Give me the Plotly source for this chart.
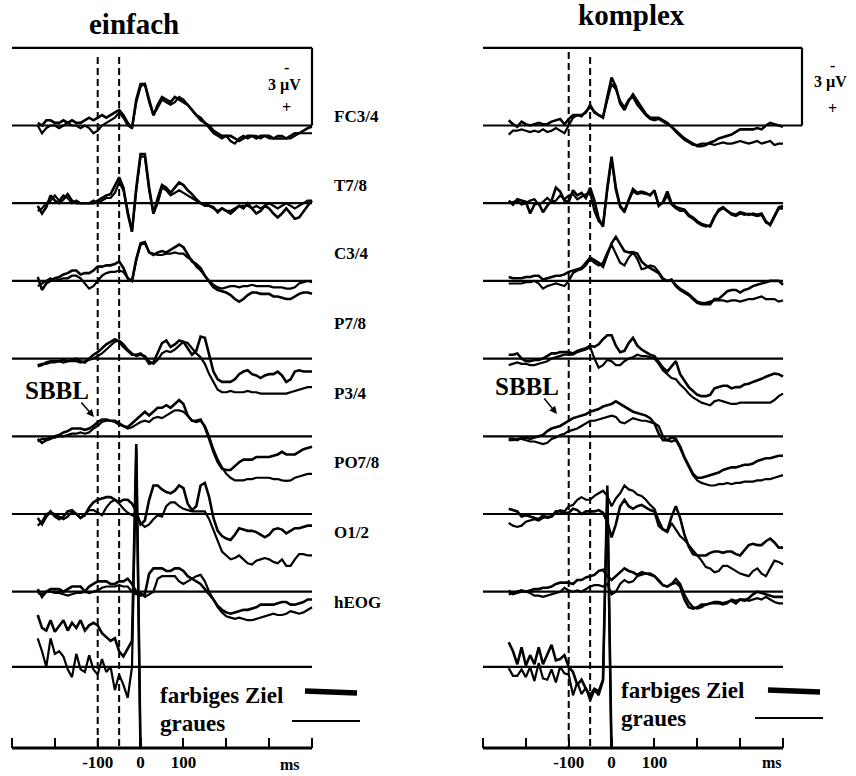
import plotly.graph_objects as go

# ---------------- data (µV, negative up as in the original ERP plot) ----------------
T = list(range(-240, 401, 10))  # ms

CHANNELS = ["FC3/4", "T7/8", "C3/4", "P7/8", "P3/4", "PO7/8", "O1/2", "hEOG"]
XTICKS = [-300, -200, -100, 0, 100, 200, 300, 400]
XTICK_TEXT = ["", "", "-100", "0", "100", "", "", ""]
MARKERS_MS = [-100, -50]
N = None

# ----- einfach (left) -----
E_FC_FARB = [-0.1, 0.0, -0.2, -0.2, -0.1, -0.1, -0.2, -0.1, -0.2,
             -0.1, -0.1, -0.2, -0.3, -0.2, -0.3, -0.4, -0.3, -0.4, -0.5,
             -0.6, -0.4, -0.1, 0.1, -1.0, -1.6, -1.6, -1.0, -0.4, -0.8,
             -1.1, -1.0, -0.9, -1.1, -1.0, -0.9, -0.8, -0.6, -0.4, -0.3,
             -0.1, 0.0, 0.2, 0.3, 0.4, 0.4, 0.4, 0.5, 0.6, 0.5,
             0.4, 0.4, 0.5, 0.4, 0.4, 0.4, 0.5, 0.5, 0.5, 0.5,
             0.4, 0.3, 0.3, 0.2, 0.1, 0.05]
E_FC_GRAU = [0.0, 0.3, 0.1, 0.0, 0.0, 0.1, 0.0, -0.1, 0.0,
             0.0, 0.1, 0.0, 0.1, 0.3, 0.2, 0.0, -0.1, -0.2, -0.3,
             -0.5, -0.3, 0.0, 0.1, -0.9, -1.5, -1.6, -0.9, -0.4, -0.7,
             -1.0, -0.9, -0.8, -0.9, -1.1, -1.0, -0.8, -0.6, -0.4, -0.2,
             -0.1, 0.1, 0.3, 0.4, 0.5, 0.4, 0.6, 0.7, 0.5, 0.4,
             0.5, 0.4, 0.4, 0.5, 0.4, 0.5, 0.5, 0.4, 0.4, 0.5,
             0.5, 0.4, 0.3, 0.3, 0.3, 0.3]
E_T78_FARB = [0.1, 0.4, 0.15, -0.3, -0.1, 0.0, -0.15, -0.35, -0.1,
              0.0, 0.0, 0.0, 0.0, 0.0, -0.1, -0.2, -0.3, -0.35, -0.7,
              -1.0, -0.6, 0.4, 1.1, -0.6, -1.9, -1.9, -0.6, 0.4, -0.2,
              -0.7, -0.6, -0.4, -0.6, -0.8, -0.7, -0.5, -0.35, -0.15, 0.0,
              0.0, 0.1, 0.15, 0.35, 0.2, 0.3, 0.4, 0.25, 0.1, 0.2,
              0.0, 0.2, 0.4, 0.3, 0.1, 0.2, 0.4, 0.55, 0.4, 0.2,
              0.4, 0.6, 0.55, 0.3, 0.1, -0.1]
E_T78_GRAU = [0.3, 0.2, 0.0, -0.1, -0.3, -0.1, -0.3, -0.2, 0.0,
              -0.1, 0.0, 0.0, 0.0, -0.1, 0.0, -0.1, -0.2, -0.2, -0.4,
              -0.8, -0.5, 0.3, 1.1, -0.5, -1.8, -1.8, -0.5, 0.4, 0.0,
              -0.6, -0.5, -0.3, -0.4, -0.5, -0.4, -0.3, -0.2, -0.1, 0.0,
              0.1, 0.1, 0.2, 0.3, 0.2, 0.3, 0.3, 0.2, 0.1, 0.1,
              0.1, 0.2, 0.1, 0.2, 0.1, 0.0, 0.1, 0.2, 0.1, 0.0,
              0.1, 0.2, 0.1, 0.0, -0.1, -0.1]
E_C34_FARB = [-0.15, 0.35, 0.1, 0.0, -0.1, -0.15, -0.25, -0.3, -0.4,
              -0.4, -0.25, -0.3, -0.3, -0.4, -0.55, -0.55, -0.6, -0.6, -0.65,
              -0.75, -0.5, -0.1, 0.0, -0.85, -1.45, -1.5, -1.1, -1.0, -1.1,
              -1.15, -1.1, -1.2, -1.3, -1.4, -1.3, -1.0, -0.75, -0.65, -0.5,
              -0.2, 0.05, 0.25, 0.35, 0.4, 0.45, 0.55, 0.7, 0.8, 0.7,
              0.55, 0.45, 0.45, 0.5, 0.5, 0.5, 0.6, 0.6, 0.65, 0.7,
              0.7, 0.6, 0.5, 0.45, 0.45, 0.5]
E_C34_GRAU = [0.2, 0.1, 0.0, -0.1, 0.0, -0.05, -0.1, -0.1, -0.2,
              -0.2, -0.1, 0.1, 0.3, 0.2, 0.0, -0.2, -0.3, -0.35, -0.35,
              -0.4, -0.35, -0.1, 0.0, -0.8, -1.4, -1.45, -1.1, -1.05, -1.0,
              -1.0, -1.05, -1.05, -1.1, -1.05, -1.05, -0.9, -0.8, -0.55, -0.4,
              -0.2, 0.0, 0.15, 0.25, 0.3, 0.25, 0.2, 0.2, 0.25, 0.2,
              0.2, 0.15, 0.2, 0.2, 0.2, 0.2, 0.25, 0.25, 0.25, 0.3,
              0.3, 0.25, 0.1, 0.05, 0.0, 0.05]
E_P78_FARB = [0.3, 0.25, 0.15, 0.1, 0.1, 0.1, 0.05, 0.1, 0.05,
              0.0, 0.1, 0.15, 0.0, -0.15, -0.25, -0.4, -0.55, -0.65, -0.75,
              -0.65, -0.45, -0.3, -0.15, -0.15, -0.2, -0.05, 0.2, 0.15, -0.2,
              -0.6, -0.7, -0.45, -0.55, -0.7, -0.65, -0.4, -0.15, -0.3, -0.85,
              -0.8, -0.15, 0.5, 0.8, 0.9, 0.9, 0.9, 0.8, 0.6, 0.5,
              0.45, 0.6, 0.65, 0.75, 0.65, 0.6, 0.6, 0.5, 0.65, 0.9,
              0.8, 0.5, 0.45, 0.5, 0.5, 0.5]
E_P78_GRAU = [0.25, 0.2, 0.2, 0.15, 0.15, 0.1, 0.15, 0.1, 0.1,
              0.1, 0.15, 0.1, 0.05, 0.0, -0.1, -0.2, -0.35, -0.5, -0.65,
              -0.7, -0.55, -0.35, -0.2, -0.1, -0.15, -0.1, 0.1, 0.2, 0.05,
              -0.2, -0.3, -0.25, -0.35, -0.5, -0.65, -0.6, -0.4, -0.2, -0.05,
              0.2, 0.6, 0.9, 1.2, 1.3, 1.3, 1.25, 1.3, 1.3, 1.3,
              1.25, 1.3, 1.3, 1.35, 1.35, 1.35, 1.35, 1.35, 1.35, 1.35,
              1.3, 1.25, 1.2, 1.15, 1.1, 1.1]
E_P34_FARB = [0.1, 0.25, 0.15, 0.1, 0.0, -0.05, -0.15, -0.2, -0.3,
              -0.3, -0.3, -0.25, -0.3, -0.4, -0.55, -0.65, -0.65, -0.6, -0.6,
              -0.5, -0.4, -0.35, -0.5, -0.65, -0.8, -0.95, -0.8, -0.95, -1.1,
              -1.1, -1.2, -1.1, -1.25, -1.4, -1.25, -0.8, -0.6, -0.6, -0.65,
              -0.35, 0.1, 0.6, 1.0, 1.25, 1.3, 1.3, 1.15, 1.0, 0.9,
              0.9, 0.9, 0.8, 0.8, 0.8, 0.8, 0.75, 0.7, 0.6, 0.7,
              0.7, 0.7, 0.6, 0.5, 0.45, 0.4]
E_P34_GRAU = [0.2, 0.1, 0.1, 0.05, 0.05, 0.0, 0.0, -0.05, -0.1,
              -0.1, -0.15, -0.1, -0.15, -0.3, -0.4, -0.55, -0.6, -0.6, -0.55,
              -0.45, -0.4, -0.3, -0.35, -0.45, -0.55, -0.6, -0.55, -0.7, -0.75,
              -0.7, -0.8, -0.9, -1.0, -1.0, -0.95, -0.8, -0.6, -0.55, -0.6,
              -0.4, 0.0, 0.5, 0.9, 1.2, 1.45, 1.6, 1.7, 1.7, 1.7,
              1.65, 1.65, 1.6, 1.6, 1.6, 1.6, 1.65, 1.65, 1.7, 1.72,
              1.7, 1.6, 1.55, 1.5, 1.45, 1.45]
E_PO78_FARB = [0.15, 0.4, 0.1, -0.1, 0.1, 0.2, 0.1, -0.1, -0.15,
               0.0, 0.15, 0.05, -0.25, -0.45, -0.55, -0.6, -0.65, -0.65, -0.55,
               -0.45, -0.55, -0.55, -0.4, -0.1, 0.4, 0.25, -0.55, -1.1, -1.1,
               -0.95, -0.85, -0.8, -0.9, -1.1, -1.0, -0.4, -0.15, -0.3, -1.1,
               -1.2, -0.65, 0.15, 0.65, 0.85, 0.95, 1.0, 0.8, 0.55, 0.6,
               0.65, 0.65, 0.7, 0.8, 0.9, 0.8, 0.6, 0.55, 0.6, 0.75,
               0.65, 0.55, 0.55, 0.5, 0.45, 0.45]
E_PO78_GRAU = [0.45, 0.3, 0.0, -0.05, 0.0, 0.1, 0.2, 0.1, -0.1,
               0.0, 0.15, 0.0, -0.15, -0.15, -0.05, 0.05, -0.25, -0.45, -0.55,
               -0.4, -0.2, -0.05, 0.05, 0.1, 0.35, 0.5, 0.4, 0.2, 0.05,
               0.1, -0.3, -0.45, -0.45, -0.3, -0.2, -0.15, -0.1, -0.1, -0.1,
               -0.1, 0.2, 0.6, 1.0, 1.45, 1.6, 1.75, 1.7, 1.6, 1.75,
               1.9, 1.95, 1.8, 1.75, 1.7, 1.75, 1.85, 1.9, 1.75, 2.0,
               2.0, 1.75, 1.55, 1.55, 1.6, 1.6]
E_O12_FARB = [-0.1, 0.2, 0.0, -0.1, -0.1, -0.1, 0.0, -0.1, -0.2,
              -0.2, -0.2, 0.0, -0.2, -0.3, -0.4, -0.4, -0.4, -0.3, -0.3,
              -0.4, -0.4, -0.5, -0.3, 0.0, 0.15, 0.1, -0.7, -0.9, -0.9,
              -0.9, -0.8, -0.8, -0.9, -0.9, -0.8, -0.6, -0.5, -0.4, -0.3,
              -0.1, 0.1, 0.3, 0.55, 0.7, 0.8, 0.85, 0.8, 0.75, 0.7,
              0.7, 0.65, 0.6, 0.5, 0.5, 0.5, 0.5, 0.45, 0.4, 0.4,
              0.5, 0.5, 0.45, 0.4, 0.3, 0.3]
E_O12_GRAU = [0.05, 0.1, 0.0, 0.0, 0.05, 0.05, 0.1, 0.15, 0.1,
              0.05, 0.05, 0.0, 0.05, 0.0, -0.05, -0.15, -0.2, -0.2, -0.2,
              -0.25, -0.2, -0.2, 0.0, 0.1, 0.05, 0.2, 0.1, 0.0, -0.5,
              -0.6, -0.6, -0.6, -0.6, -0.4, -0.3, -0.4, -0.5, -0.6, -0.65,
              -0.4, 0.0, 0.3, 0.6, 0.8, 0.95, 1.0, 1.05, 1.0, 1.05,
              1.1, 1.1, 1.05, 1.0, 0.95, 0.9, 0.85, 0.9, 0.9, 0.85,
              0.75, 0.8, 0.85, 0.8, 0.7, 0.6]
E_HEOG_FARB = [-2.0, -1.5, -1.4, -1.8, -1.35, -1.6, -1.8, -1.4, -1.7,
               -1.5, -1.8, -1.4, -1.6, -1.7, -1.6, -1.3, -1.15, -1.0, -1.1,
               -0.6, -0.4, -0.7, -1.0, -8.6, 3.5, N, N, N, N,
               N, N, N, N, N, N, N, N, N, N,
               N, N, N, N, N, N, N, N, N, N,
               N, N, N, N, N, N, N, N, N, N,
               N, N, N, N, N, N]
E_HEOG_GRAU = [-1.1, -0.6, 0.0, -1.1, -0.5, -0.6, -0.4, 0.1, 0.4,
               -0.5, 0.1, 0.2, -0.45, 0.1, 0.3, -0.3, 0.2, 0.0, 0.9,
               0.3, 0.7, 1.2, 0.0, -8.4, 3.5, N, N, N, N,
               N, N, N, N, N, N, N, N, N, N,
               N, N, N, N, N, N, N, N, N, N,
               N, N, N, N, N, N, N, N, N, N,
               N, N, N, N, N, N]

# ----- komplex (right) -----
K_FC_FARB = [-0.2, -0.05, 0.05, -0.15, -0.05, 0.0, -0.05, -0.1, -0.05,
             -0.05, -0.15, -0.2, -0.25, -0.05, -0.25, -0.4, -0.4, -0.4, -0.5,
             -0.8, -0.5, -0.4, -0.3, -1.1, -1.85, -1.5, -0.85, -0.6, -0.95,
             -1.2, -0.95, -0.7, -0.45, -0.3, -0.3, -0.3, -0.2, -0.1, 0.05,
             0.2, 0.35, 0.5, 0.6, 0.7, 0.8, 0.8, 0.75, 0.65, 0.6,
             0.5, 0.45, 0.4, 0.35, 0.25, 0.15, 0.15, 0.15, 0.15, 0.1,
             0.15, 0.0, -0.1, -0.05, 0.0, 0.05]
K_FC_GRAU = [0.35, 0.2, 0.2, 0.15, 0.2, 0.25, 0.2, 0.25, 0.15,
             0.25, 0.2, 0.1, 0.2, 0.3, 0.0, -0.3, -0.4, -0.35, -0.55,
             -0.7, -0.55, -0.4, -0.35, -1.0, -1.6, -1.4, -0.95, -0.7, -1.0,
             -1.1, -0.8, -0.6, -0.4, -0.25, -0.2, -0.25, -0.15, -0.05, 0.05,
             0.25, 0.4, 0.55, 0.65, 0.75, 0.75, 0.7, 0.7, 0.7, 0.75,
             0.7, 0.65, 0.7, 0.7, 0.65, 0.6, 0.65, 0.7, 0.65, 0.6,
             0.7, 0.65, 0.6, 0.75, 0.7, 0.7]
K_T78_FARB = [-0.1, 0.05, -0.15, -0.1, -0.05, 0.4, 0.05, 0.0, 0.35,
              0.1, -0.1, -0.6, -0.45, -0.1, -0.05, -0.5, -0.3, -0.4, -0.2,
              -0.6, -0.1, 0.6, 0.9, -0.6, -1.8, -0.6, 0.1, 0.3, -0.15,
              -0.55, -0.4, -0.45, -0.4, -0.3, -0.5, 0.1, -0.05, -0.45, 0.0,
              0.15, 0.2, 0.25, 0.45, 0.55, 0.7, 0.8, 0.85, 0.9, 0.55,
              0.25, 0.15, 0.3, 0.4, 0.45, 0.35, 0.4, 0.45, 0.4, 0.45,
              0.4, 0.7, 0.85, 0.5, 0.2, 0.2]
K_T78_GRAU = [0.0, -0.05, -0.1, 0.05, 0.0, -0.1, -0.15, 0.05, -0.05,
              -0.2, -0.05, -0.1, -0.3, -0.15, -0.3, -0.35, -0.15, -0.25, -0.35,
              -0.4, 0.3, 0.7, 0.85, -0.5, -1.7, -0.5, 0.15, 0.35, -0.1,
              -0.45, -0.35, -0.4, -0.35, -0.35, -0.45, 0.05, 0.0, -0.3, 0.05,
              0.2, 0.3, 0.3, 0.5, 0.6, 0.75, 0.85, 0.9, 0.85, 0.5,
              0.3, 0.2, 0.3, 0.45, 0.5, 0.4, 0.45, 0.4, 0.45, 0.5,
              0.45, 0.75, 0.8, 0.45, 0.15, 0.1]
K_C34_FARB = [-0.15, -0.1, -0.1, -0.1, -0.15, -0.15, -0.2, -0.2, -0.05,
              -0.1, -0.15, -0.2, -0.2, -0.25, -0.35, -0.4, -0.45, -0.5, -0.7,
              -0.9, -0.8, -0.7, -0.55, -1.0, -1.45, -1.7, -1.4, -1.15, -1.1,
              -1.1, -1.05, -0.75, -0.6, -0.5, -0.4, -0.3, -0.05, 0.0, -0.05,
              0.2, 0.35, 0.45, 0.55, 0.7, 0.85, 0.9, 0.9, 0.9, 0.7,
              0.7, 0.55, 0.4, 0.35, 0.35, 0.45, 0.35, 0.3, 0.2, 0.15,
              0.1, 0.05, 0.0, 0.0, 0.0, 0.15]
K_C34_GRAU = [0.1, 0.1, 0.1, 0.1, 0.05, 0.05, 0.0, 0.1, 0.3,
              0.2, 0.15, 0.1, 0.15, 0.2, 0.0, -0.3, -0.4, -0.45, -0.6,
              -0.85, -0.7, -0.6, -0.7, -1.1, -1.4, -1.05, -0.7, -0.6, -0.9,
              -1.1, -0.85, -0.45, -0.5, -0.6, -0.55, -0.35, -0.1, 0.0, 0.0,
              0.15, 0.3, 0.4, 0.5, 0.65, 0.8, 0.85, 0.85, 0.8, 0.75,
              0.75, 0.75, 0.8, 0.75, 0.75, 0.8, 0.75, 0.7, 0.7, 0.65,
              0.6, 0.7, 0.7, 0.7, 0.8, 0.75]
K_P78_FARB = [-0.15, -0.15, -0.2, 0.0, 0.1, 0.1, 0.05, 0.05, 0.0,
              -0.1, -0.2, -0.2, -0.25, -0.25, -0.25, -0.2, -0.3, -0.35, -0.4,
              -0.5, -0.45, -0.55, -0.75, -0.9, -0.9, -0.5, -0.25, -0.3, -0.6,
              -0.8, -0.5, -0.35, -0.25, -0.15, -0.1, 0.15, 0.35, 0.5, 0.3,
              0.1, 0.6, 0.85, 1.1, 1.25, 1.4, 1.45, 1.45, 1.4, 1.15,
              1.1, 1.05, 1.05, 1.15, 1.1, 1.1, 1.0, 0.97, 0.9, 0.85,
              0.78, 0.7, 0.65, 0.58, 0.6, 0.7]
K_P78_GRAU = [0.25, 0.2, 0.15, 0.2, 0.2, 0.25, 0.25, 0.2, 0.15,
              0.1, 0.0, -0.05, -0.1, -0.15, -0.15, -0.15, -0.25, -0.3, -0.35,
              -0.45, 0.0, 0.35, 0.25, 0.05, 0.1, 0.25, 0.25, 0.1, 0.0,
              -0.05, -0.15, -0.1, -0.1, -0.05, 0.0, 0.2, 0.45, 0.6, 0.75,
              0.8, 1.0, 1.15, 1.35, 1.5, 1.6, 1.7, 1.75, 1.8, 1.65,
              1.6, 1.65, 1.7, 1.75, 1.75, 1.7, 1.7, 1.7, 1.7, 1.7,
              1.7, 1.7, 1.7, 1.6, 1.45, 1.35]
K_P34_FARB = [0.1, 0.1, 0.15, 0.05, 0.05, 0.1, 0.05, 0.0, -0.05,
              -0.2, -0.3, -0.35, -0.4, -0.5, -0.6, -0.7, -0.75, -0.8, -0.85,
              -0.95, -1.0, -1.05, -1.15, -1.2, -1.25, -1.35, -1.25, -1.15, -1.05,
              -0.95, -0.9, -0.85, -0.8, -0.7, -0.5, -0.1, 0.15, 0.15, 0.05,
              0.1, 0.4, 0.8, 1.1, 1.45, 1.6, 1.6, 1.55, 1.5, 1.45,
              1.4, 1.3, 1.25, 1.2, 1.2, 1.15, 1.1, 1.1, 1.05, 0.95,
              0.9, 0.85, 0.85, 0.8, 0.75, 0.75]
K_P34_GRAU = [0.15, 0.15, 0.1, 0.1, 0.15, 0.2, 0.2, 0.25, 0.3,
              0.25, 0.1, 0.05, -0.05, -0.1, -0.2, -0.25, -0.3, -0.4, -0.5,
              -0.6, -0.6, -0.65, -0.7, -0.75, -0.8, -0.75, -0.55, -0.5, -0.6,
              -0.7, -0.65, -0.6, -0.6, -0.55, -0.5, -0.4, 0.0, 0.15, 0.2,
              0.15, 0.45, 0.85, 1.2, 1.5, 1.7, 1.8, 1.85, 1.9, 1.9,
              1.85, 1.85, 1.8, 1.85, 1.8, 1.8, 1.75, 1.75, 1.75, 1.7,
              1.7, 1.65, 1.65, 1.6, 1.55, 1.5]
K_PO78_FARB = [-0.2, -0.15, -0.1, 0.1, 0.05, 0.1, 0.15, 0.2, 0.05,
               0.15, 0.1, -0.1, -0.1, -0.05, -0.05, -0.2, -0.15, 0.0, -0.1,
               -0.1, -0.1, -0.15, -0.05, 0.3, 0.9, 0.4, -0.3, -0.55, -0.3,
               -0.2, -0.3, -0.35, -0.25, -0.15, -0.1, 0.45, 0.6, 0.65, 0.1,
               -0.3, 0.15, 0.8, 1.25, 1.55, 1.6, 1.6, 1.6, 1.5, 1.45,
               1.45, 1.5, 1.45, 1.45, 1.55, 1.6, 1.4, 1.2, 1.15, 1.2,
               1.2, 1.05, 0.95, 1.1, 1.3, 1.3]
K_PO78_GRAU = [0.35, 0.45, 0.5, 0.45, 0.3, 0.25, 0.2, 0.25, 0.15,
               0.1, 0.1, -0.05, -0.15, -0.1, -0.3, -0.35, -0.55, -0.65, -0.55,
               -0.55, -0.7, -0.8, -0.9, -0.7, -0.3, -0.6, -0.8, -1.1, -0.95,
               -0.9, -0.75, -0.7, -0.55, -0.35, -0.2, 0.25, 0.6, 0.7, 0.35,
               0.6, 0.85, 1.0, 1.2, 1.4, 1.6, 1.8, 2.05, 2.1, 2.25,
               2.2, 2.0, 2.0, 2.1, 2.2, 2.3, 2.35, 2.4, 2.2, 2.1,
               2.3, 2.4, 2.1, 1.8, 1.85, 1.95]
K_O12_FARB = [0.1, 0.05, 0.0, -0.05, 0.0, -0.05, -0.1, -0.1, -0.15,
              -0.15, -0.2, -0.3, -0.35, -0.35, -0.35, -0.3, -0.45, -0.45, -0.55,
              -0.6, -0.65, -0.8, -0.85, -0.6, -0.45, -0.6, -0.75, -0.9, -0.8,
              -0.75, -0.65, -0.75, -0.7, -0.7, -0.6, -0.45, -0.25, -0.2, -0.3,
              -0.35, -0.2, 0.3, 0.6, 0.65, 0.6, 0.5, 0.5, 0.45, 0.4,
              0.4, 0.45, 0.4, 0.35, 0.45, 0.3, 0.35, 0.25, 0.1, 0.0,
              0.05, 0.1, 0.15, 0.2, 0.2, 0.2]
K_O12_GRAU = [-0.05, 0.1, 0.05, 0.0, 0.0, 0.05, 0.15, 0.15, 0.2,
              0.15, 0.1, 0.05, 0.0, -0.15, -0.05, 0.0, -0.05, 0.0, -0.1,
              -0.2, -0.25, -0.25, -0.2, -0.3, 0.1, 0.0, -0.3, -0.45, -0.35,
              -0.4, -0.6, -0.65, -0.7, -0.65, -0.6, -0.4, -0.25, -0.2, -0.3,
              -0.5, -0.3, 0.1, 0.4, 0.6, 0.65, 0.6, 0.5, 0.45, 0.45,
              0.45, 0.5, 0.45, 0.3, 0.35, 0.3, 0.3, 0.35, 0.3, 0.25,
              0.3, 0.2, 0.3, 0.4, 0.45, 0.45]
K_HEOG_FARB = [-0.95, -0.6, -0.1, -0.75, -0.05, -0.45, -0.1, -0.75, -0.1,
               -0.5, -0.85, -0.25, -0.3, -0.45, 0.0, 0.2, 0.7, 0.5, 0.85,
               1.1, 0.85, 0.95, 0.5, -7.0, 3.5, N, N, N, N,
               N, N, N, N, N, N, N, N, N, N,
               N, N, N, N, N, N, N, N, N, N,
               N, N, N, N, N, N, N, N, N, N,
               N, N, N, N, N, N]
K_HEOG_GRAU = [0.05, 0.35, 0.35, 0.1, 0.4, 0.0, 0.55, -0.15, 0.45,
               0.5, 0.1, 0.6, 0.0, 0.25, 0.3, 1.1, 0.6, 1.05, 0.8,
               1.3, 0.9, 1.1, 0.55, -6.8, 3.5, N, N, N, N,
               N, N, N, N, N, N, N, N, N, N,
               N, N, N, N, N, N, N, N, N, N,
               N, N, N, N, N, N, N, N, N, N,
               N, N, N, N, N, N]

EINFACH_FARB = [E_FC_FARB, E_T78_FARB, E_C34_FARB, E_P78_FARB, E_P34_FARB, E_PO78_FARB, E_O12_FARB, E_HEOG_FARB]
EINFACH_GRAU = [E_FC_GRAU, E_T78_GRAU, E_C34_GRAU, E_P78_GRAU, E_P34_GRAU, E_PO78_GRAU, E_O12_GRAU, E_HEOG_GRAU]
KOMPLEX_FARB = [K_FC_FARB, K_T78_FARB, K_C34_FARB, K_P78_FARB, K_P34_FARB, K_PO78_FARB, K_O12_FARB, K_HEOG_FARB]
KOMPLEX_GRAU = [K_FC_GRAU, K_T78_GRAU, K_C34_GRAU, K_P78_GRAU, K_P34_GRAU, K_PO78_GRAU, K_O12_GRAU, K_HEOG_GRAU]
for grp in (EINFACH_FARB, EINFACH_GRAU, KOMPLEX_FARB, KOMPLEX_GRAU):
    for arr in grp:
        assert len(arr) == len(T), len(arr)

# ---------------- layout geometry ----------------
W, H = 856, 776
PLOT_H = 748                      # plot area bottom = time axis line
OFFSETS = [0, 3, 6, 9, 12, 15, 18, 20.9]   # stacking of channels (3 µV apart)
MS_PER_PX = 7.0 / 3.0
UV_PX = 25.9
Y0PX = 125.5
FONT = "Liberation Serif, Times New Roman, serif"


def xl(px):
    return -300 + (px - 12) * MS_PER_PX


def xr(px):
    return -300 + (px - 483) * MS_PER_PX


def yv(py):
    return (py - Y0PX) / UV_PX


def px_x(px):
    return px / W


def px_y(py):
    return 1 - py / PLOT_H


fig = go.Figure()

for xa, farb, grau in (("x", EINFACH_FARB, EINFACH_GRAU), ("x2", KOMPLEX_FARB, KOMPLEX_GRAU)):
    for i, ch in enumerate(CHANNELS):
        for arr, wdt, name in ((grau, 2.2, "graues"), (farb, 2.6, "farbiges Ziel")):
            ys = [None if v is None else OFFSETS[i] + v for v in arr[i]]
            fig.add_trace(go.Scatter(x=T, y=ys, xaxis=xa, yaxis="y", mode="lines",
                                     line=dict(color="black", width=wdt),
                                     name=name, showlegend=False, hoverinfo="skip"))

shapes = []


def hline(xref, x0, x1, y, w=2.2):
    shapes.append(dict(type="line", xref=xref, yref="y", x0=x0, x1=x1, y0=y, y1=y,
                       line=dict(color="black", width=w)))


# channel baselines
box_right_end = xr(802)
for i in range(len(CHANNELS)):
    hline("x", -300, 400, OFFSETS[i])
    hline("x2", -300, box_right_end if i == 0 else 400, OFFSETS[i])

# calibration boxes (3 µV)
hline("x", -300, 400, -3)
shapes.append(dict(type="line", xref="x", yref="y", x0=400, x1=400, y0=-3, y1=0,
                   line=dict(color="black", width=2.2)))
hline("x2", -300, box_right_end, -3)
shapes.append(dict(type="line", xref="x2", yref="y", x0=box_right_end, x1=box_right_end, y0=-3, y1=0,
                   line=dict(color="black", width=2.2)))

# dashed markers
for xa, tops in (("x", [57, 57]), ("x2", [52, 57])):
    for ms, top in zip(MARKERS_MS, tops):
        shapes.append(dict(type="line", xref=xa, yref="y", x0=ms, x1=ms, y0=yv(top), y1=yv(PLOT_H),
                           line=dict(color="black", width=2, dash="7px,4px")))

# time axis lines
for xa in ("x", "x2"):
    shapes.append(dict(type="line", xref=xa, yref="paper", x0=-300, x1=400, y0=0, y1=0,
                       line=dict(color="black", width=3)))

# legend sample lines
for (x0, y0, x1, y1, w) in ((305, 691, 357, 693, 5.5), (292, 721, 360, 721, 2.2),
                            (768, 690, 820, 692, 5.5), (755, 718, 823, 718, 2.2)):
    shapes.append(dict(type="line", xref="paper", yref="paper", x0=px_x(x0), x1=px_x(x1),
                       y0=px_y(y0), y1=px_y(y1), line=dict(color="black", width=w)))

annotations = []


def ann(text, px, py, size, xanchor="center"):
    annotations.append(dict(text="<b>%s</b>" % text, xref="paper", yref="paper",
                            x=px_x(px), y=px_y(py), xanchor=xanchor, yanchor="middle",
                            showarrow=False, font=dict(family=FONT, size=size, color="black")))


ann("einfach", 134, 24, 29)
ann("komplex", 631, 15, 29)
for ch, py in zip(CHANNELS, [117, 185, 253, 323, 393, 462, 532, 602]):
    ann(ch, 332, py, 17, "left")
for (cx, ys) in ((286, (67, 85, 107)), (832, (65, 82, 108))):
    ann("-", cx, ys[0], 16)
    ann("3 µV", cx - 2, ys[1], 16)
    ann("+", cx, ys[2], 16)
ann("SBBL", 57, 390, 25)
ann("SBBL", 527, 387, 25)
ann("farbiges Ziel", 158, 695, 23, "left")
ann("graues", 158, 723, 23, "left")
ann("farbiges Ziel", 619, 690, 23, "left")
ann("graues", 619, 718, 23, "left")
ann("ms", 290, 764, 16)
ann("ms", 772, 762, 16)

for (hx, hy, tx, ty) in ((94, 417, 80, 401), (557, 414, 543, 397)):
    annotations.append(dict(text="", xref="paper", yref="paper", x=px_x(hx), y=px_y(hy),
                            ax=tx - hx, ay=ty - hy, axref="pixel", ayref="pixel",
                            showarrow=True, arrowhead=2, arrowsize=1, arrowwidth=1.5,
                            arrowcolor="black"))

xaxis_common = dict(showgrid=False, zeroline=False, showline=False, ticks="inside",
                    tickvals=XTICKS, ticktext=["<b>%s</b>" % t if t else "" for t in XTICK_TEXT],
                    ticklen=10, tickwidth=2, tickcolor="black", anchor="y",
                    tickfont=dict(family=FONT, size=17, color="black"),
                    ticklabelstandoff=2, fixedrange=True)

fig.update_layout(
    width=W, height=H,
    margin=dict(l=0, r=0, t=0, b=H - PLOT_H, pad=0),
    paper_bgcolor="white", plot_bgcolor="white",
    showlegend=False,
    xaxis=dict(domain=[0, 0.5], range=[xl(0), xl(428)], **xaxis_common),
    xaxis2=dict(domain=[0.5, 1], range=[xr(428), xr(856)], **xaxis_common),
    yaxis=dict(range=[yv(PLOT_H), yv(0)], visible=False, fixedrange=True),
    shapes=shapes,
    annotations=annotations,
)

fig.write_html("out.html", config={"displayModeBar": False},
               post_script="document.body.style.margin='0px';")
